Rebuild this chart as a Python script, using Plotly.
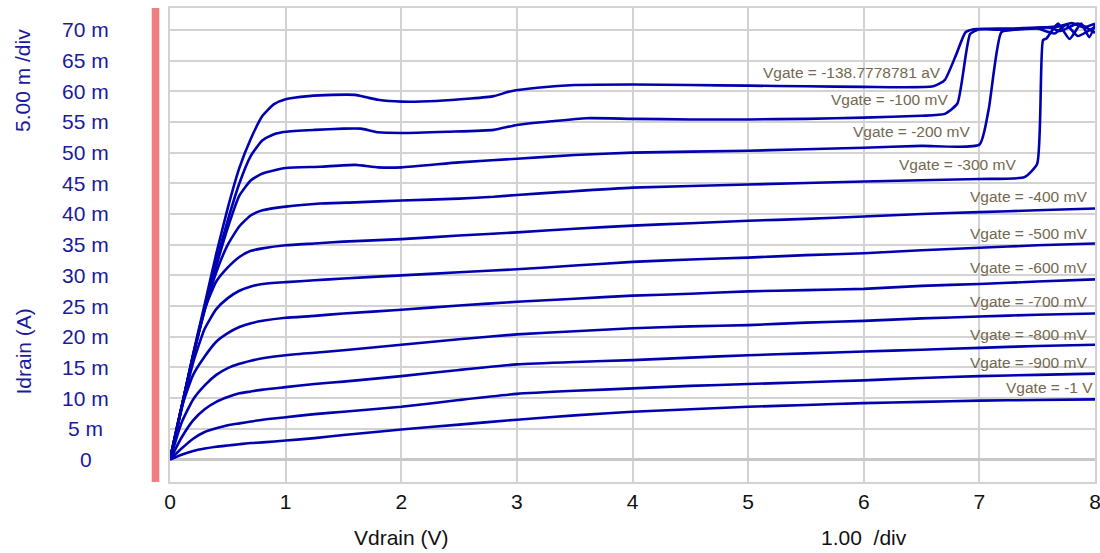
import plotly.graph_objects as go

# ---------------- data (drain current in mA, drain voltage in V) ----------------
gate_labels = ["Vgate = -138.7778781 aV", "Vgate = -100 mV", "Vgate = -200 mV", "Vgate = -300 mV",
               "Vgate = -400 mV", "Vgate = -500 mV", "Vgate = -600 mV", "Vgate = -700 mV",
               "Vgate = -800 mV", "Vgate = -900 mV", "Vgate = -1 V"]

v_g0 = [0, .1, .2, .3, .4, .5, .6, .7, .8, .9, 1.0, 1.2, 1.4, 1.6, 1.7, 1.8, 2.0, 2.3, 2.6, 2.8, 2.95,
        3.2, 3.5, 4.0, 4.5, 5.0, 5.5, 6.0, 6.6, 6.7, 6.8, 6.88, 6.95, 7.2, 7.5, 7.7, 7.8, 7.9, 8.0]
i_g0 = [0, 8.5, 17.2, 25.3, 33.5, 41, 47.5, 52.3, 56, 57.9, 58.7, 59.2, 59.4, 59.4, 59.0, 58.6, 58.3, 58.4,
        58.8, 59.2, 60.0, 60.6, 61.0, 61.1, 61.0, 60.9, 60.8, 60.7, 60.8, 61.8, 66, 69.6, 70.1, 70.0, 70.3,
        70.6, 71.1, 70.4, 71.0]

v_g100 = [0, .1, .2, .3, .4, .5, .6, .7, .8, .9, 1.0, 1.25, 1.5, 1.65, 1.8, 2.0, 2.4, 2.8, 3.0, 3.3, 3.6,
          4.0, 4.5, 5.0, 5.5, 6.0, 6.5, 6.7, 6.81, 6.92, 7.0, 7.3, 7.6, 7.7, 7.85, 8.0]
i_g100 = [0, 8.5, 17, 24.8, 32.3, 39, 45, 49.5, 52, 53, 53.4, 53.7, 53.9, 53.9, 53.3, 53.2, 53.4, 53.7,
          54.5, 55.1, 55.6, 55.5, 55.4, 55.4, 55.5, 55.7, 56.0, 56.3, 58.0, 69.3, 70.1, 70.2, 70.4, 69.8,
          71.0, 69.5]

v_g200 = [0, .1, .2, .3, .4, .5, .6, .7, .8, 1.0, 1.3, 1.6, 1.8, 2.0, 2.5, 3.0, 3.5, 4, 5, 6, 6.5, 7.0,
          7.08, 7.19, 7.3, 7.5, 7.65, 7.75, 7.85, 8.0]
i_g200 = [0, 8.5, 17, 24.5, 31.5, 37.8, 43, 45.5, 46.6, 47.5, 47.7, 48.0, 47.6, 47.6, 48.4, 49.0, 49.6,
          50.0, 50.3, 50.8, 51.1, 51.3, 57, 69.6, 70.0, 70.2, 69.4, 70.8, 69.0, 70.5]

v_g300 = [0, .1, .2, .3, .4, .5, .6, .7, .8, 1.0, 1.3, 1.6, 2.0, 2.5, 2.8, 3.0, 3.4, 4.0, 5.0, 6.0, 7.0,
          7.39, 7.5, 7.55, 7.58, 7.68, 7.78, 7.88, 7.95, 8.0]
i_g300 = [0, 8.5, 16.8, 24.3, 30.5, 35, 38, 39.8, 40.6, 41.2, 41.7, 41.9, 42.2, 42.5, 42.8, 43.1, 43.6,
          44.3, 44.8, 45.3, 45.7, 46.0, 48.2, 68.3, 68.6, 71.0, 68.5, 71.0, 68.8, 70.8]

v_low = [0, .1, .2, .3, .4, .5, .6, .7, .8, 1.0, 1.25, 1.5, 2, 2.5, 3, 3.5, 4, 4.5, 5, 5.5, 6, 6.5, 7,
         7.5, 8]
i_g400 = [0, 8.5, 17, 24.5, 29.0, 31.3, 33.0, 34.0, 34.4, 34.9, 35.2, 35.5, 35.9, 36.5, 37.0, 37.6, 38.1,
          38.5, 38.9, 39.2, 39.6, 40.0, 40.3, 40.6, 40.9]
i_g500 = [0, 8.2, 15.8, 21.3, 24.5, 26.3, 27.5, 28.2, 28.6, 28.9, 29.2, 29.5, 30.0, 30.5, 31.0, 31.6, 32.2,
          32.6, 32.9, 33.3, 33.6, 34.1, 34.5, 34.9, 35.2]
i_g600 = [0, 8.5, 13.8, 16.8, 19.2, 20.6, 21.6, 22.2, 22.6, 23.1, 23.4, 23.8, 24.4, 25.1, 25.7, 26.2, 26.7,
          27.0, 27.4, 27.6, 27.8, 28.3, 28.6, 29.0, 29.35]
i_g700 = [0, 6.0, 9.8, 12.1, 13.8, 14.9, 15.6, 16.1, 16.5, 17.0, 17.4, 17.8, 18.7, 19.6, 20.4, 20.9, 21.4,
          21.7, 21.9, 22.3, 22.6, 23.0, 23.3, 23.6, 23.8]
i_g800 = [0, 3.6, 6.4, 8.2, 9.4, 10.2, 10.8, 11.1, 11.4, 11.8, 12.3, 12.7, 13.6, 14.6, 15.5, 15.9, 16.2,
          16.6, 17.0, 17.3, 17.6, 17.9, 18.2, 18.5, 18.7]
i_g900 = [0, 1.8, 3.4, 4.5, 5.1, 5.6, 5.9, 6.2, 6.5, 6.9, 7.4, 7.8, 8.6, 9.7, 10.7, 11.2, 11.6, 12.0, 12.3,
          12.6, 12.9, 13.3, 13.6, 13.8, 14.0]
i_g1000 = [0, 0.8, 1.4, 1.8, 2.1, 2.3, 2.5, 2.7, 2.8, 3.1, 3.5, 4.0, 4.9, 5.7, 6.5, 7.2, 7.8, 8.2, 8.6,
           8.9, 9.2, 9.4, 9.6, 9.7, 9.8]

y_tick_vals = [0, 5, 10, 15, 20, 25, 30, 35, 40, 45, 50, 55, 60, 65, 70]
y_tick_text = ["0", "5 m", "10 m", "15 m", "20 m", "25 m", "30 m", "35 m", "40 m", "45 m", "50 m",
               "55 m", "60 m", "65 m", "70 m"]
x_tick_vals = [0, 1, 2, 3, 4, 5, 6, 7, 8]

series = [(v_g0, i_g0), (v_g100, i_g100), (v_g200, i_g200), (v_g300, i_g300),
          (v_low, i_g400), (v_low, i_g500), (v_low, i_g600), (v_low, i_g700),
          (v_low, i_g800), (v_low, i_g900), (v_low, i_g1000)]

# label anchor points (right edge, vertical middle), in data units
label_pos = [(6.685, 63.1), (6.746, 58.6), (6.933, 53.4), (7.336, 48.1), (7.947, 42.9), (7.947, 36.8),
             (7.947, 31.25), (7.947, 25.8), (7.947, 20.4), (7.947, 15.8), (8.0, 11.8)]

# ---------------- styling ----------------
FONT = "Liberation Sans, Arial, sans-serif"
LINE = "#0000B0"
GRID = "#d2d2d2"
BLUE_TXT = "#1a1a9c"
TXT_SIZE = 21

fig = go.Figure()
for (vx, iy), name in zip(series, gate_labels):
    fig.add_trace(go.Scatter(x=vx, y=iy, mode="lines", name=name,
                             line=dict(color=LINE, width=2.6, shape="spline", smoothing=0.5),
                             showlegend=False, hoverinfo="skip"))

W, H = 1100, 553
ML, MR, MT, MB = 170, 5, 8, 71
pw = W - ML - MR
ph = H - MT - MB

def px_to_paper_x(p):
    return (p - ML) / pw

def px_to_paper_y(p):
    return (H - MB - p) / ph

annotations = []
for (lx, ly), txt in zip(label_pos, gate_labels):
    annotations.append(dict(x=lx, y=ly, xref="x", yref="y", text=txt, showarrow=False,
                            xanchor="right", yanchor="middle",
                            font=dict(family=FONT, size=15.5, color="#74684f")))
for v, t in zip(y_tick_vals, y_tick_text):
    annotations.append(dict(x=px_to_paper_x(85.5), y=v, xref="paper", yref="y", text=t,
                            showarrow=False, xanchor="center", yanchor="middle",
                            font=dict(family=FONT, size=TXT_SIZE, color=BLUE_TXT)))
annotations += [
    dict(x=px_to_paper_x(22), y=px_to_paper_y(81), xref="paper", yref="paper", text="5.00 m /div",
         textangle=-90, showarrow=False, xanchor="center", yanchor="middle",
         font=dict(family=FONT, size=TXT_SIZE, color=BLUE_TXT)),
    dict(x=px_to_paper_x(23), y=px_to_paper_y(351.5), xref="paper", yref="paper", text="Idrain (A)",
         textangle=-90, showarrow=False, xanchor="center", yanchor="middle",
         font=dict(family=FONT, size=TXT_SIZE, color=BLUE_TXT)),
    dict(x=2, y=px_to_paper_y(537), xref="x", yref="paper", text="Vdrain (V)",
         showarrow=False, xanchor="center", yanchor="middle",
         font=dict(family=FONT, size=TXT_SIZE, color="#111111")),
    dict(x=6, y=px_to_paper_y(537), xref="x", yref="paper", text="1.00\u00a0 /div",
         showarrow=False, xanchor="center", yanchor="middle",
         font=dict(family=FONT, size=TXT_SIZE, color="#111111")),
]

fig.update_layout(
    width=W, height=H,
    margin=dict(l=ML, r=MR, t=MT, b=MB, pad=0, autoexpand=False),
    paper_bgcolor="white", plot_bgcolor="white",
    annotations=annotations,
    shapes=[dict(type="rect", xref="paper", yref="paper",
                 x0=px_to_paper_x(151.7), x1=px_to_paper_x(159.3), y0=0, y1=1,
                 fillcolor="#F08080", line=dict(width=0), layer="above")],
    xaxis=dict(range=[0, 8], tickvals=x_tick_vals, ticks="", showgrid=True, gridcolor=GRID,
               gridwidth=1.5, zeroline=False, showline=True, linecolor=GRID, linewidth=1.5,
               mirror=True, automargin=False, ticklabeloverflow="allow",
               tickfont=dict(family=FONT, size=TXT_SIZE, color="#111111")),
    yaxis=dict(range=[-3.65, 73.55], tickvals=y_tick_vals, showticklabels=False, ticks="",
               showgrid=True, gridcolor=GRID, gridwidth=1.5, zeroline=True, zerolinecolor="#c8c8c8",
               zerolinewidth=2.5, showline=True, linecolor=GRID, linewidth=1.5, mirror=True,
               automargin=False),
)

fig.write_html("out.html")
